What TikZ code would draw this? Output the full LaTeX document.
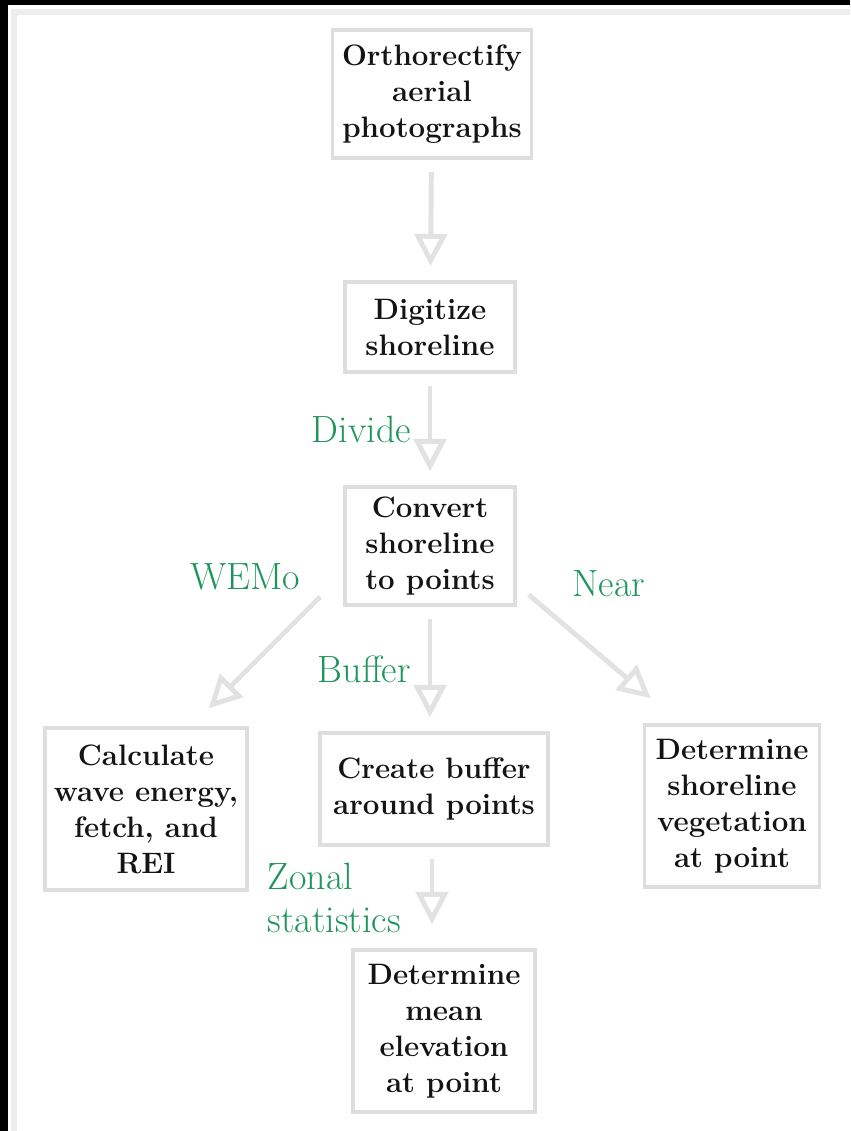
\documentclass[tikz,border=0pt]{standalone}
\usepackage{fontspec}
\usetikzlibrary{arrows.meta}
\definecolor{lblgreen}{RGB}{30,150,90}
\definecolor{boxgray}{RGB}{222,222,222}
\definecolor{arrgray}{RGB}{226,226,226}
\tikzset{
  stepbox/.style={draw=boxgray,line width=2.5pt,align=center,inner sep=0pt,
    text=black!92,font=\fontsize{21}{25.6}\selectfont\bfseries},
  flow/.style={draw=arrgray,line width=3.5pt,shorten <=0.3cm,shorten >=0.35cm,
    -{Triangle[open,length=23pt,width=23pt]}},
  lbl/.style={text=lblgreen,font=\fontsize{27}{30.6}\selectfont},
}
\begin{document}
\begin{tikzpicture}[x=0.025cm,y=-0.025cm]
\useasboundingbox (0,0) rectangle (850,1131);
\fill[white] (0,0) rectangle (850,1131);
\fill[black] (0,0) rectangle (850,5);
\fill[black] (0,0) rectangle (8,1131);
\draw[black!7,line width=4pt] (850,12) -- (14,12) -- (14,1131);

\node[stepbox,minimum width=4.975cm,minimum height=3.2cm] (orth) at (432,94) {Orthorectify\\aerial\\photographs};
\node[stepbox,minimum width=4.25cm,minimum height=2.25cm] (dig) at (430,327) {Digitize\\shoreline};
\node[stepbox,minimum width=4.25cm,minimum height=2.95cm] (conv) at (430,546) {Convert\\shoreline\\to points};
\node[stepbox,minimum width=5.05cm,minimum height=4.05cm] (calc) at (146,809) {Calculate\\wave energy,\\fetch, and\\REI};
\node[stepbox,minimum width=5.7cm,minimum height=2.8cm] (buf) at (434,789) {Create buffer\\around points};
\node[stepbox,minimum width=4.375cm,minimum height=4.05cm] (veg) at (732,806) {Determine\\shoreline\\vegetation\\at point};
\node[stepbox,minimum width=4.55cm,minimum height=4.05cm] (mean) at (444,1031) {Determine\\mean\\elevation\\at point};

\draw[flow] (orth) -- (dig);
\draw[flow] (dig) -- node[lbl,left,xshift=-0.3cm] {Divide} (conv);
\draw[flow] (conv.south) -- node[lbl,left,xshift=-0.3cm] {Buffer} (conv.south |- buf.north);
\draw[flow,shorten <=0pt,shorten >=0pt] ([shift={(-23,-10)}]conv.south west)
  -- node[lbl,pos=0,above left,xshift=-0.33cm] {WEMo} ([shift={(-40,-18)}]calc.north east);
\draw[flow,shorten <=0pt,shorten >=0pt] ([shift={(12,-12)}]conv.south east)
  -- node[lbl,pos=0.2,above right,xshift=0.3cm,yshift=0.3cm] {Near} ([shift={(8,-25)}]veg.north west);
\draw[flow,shorten >=0.6cm] (buf.south -| 432,0) -- node[lbl,left,align=left,xshift=-0.6cm] {Zonal\\statistics} (mean.north -| 432,0);
\end{tikzpicture}
\end{document}
